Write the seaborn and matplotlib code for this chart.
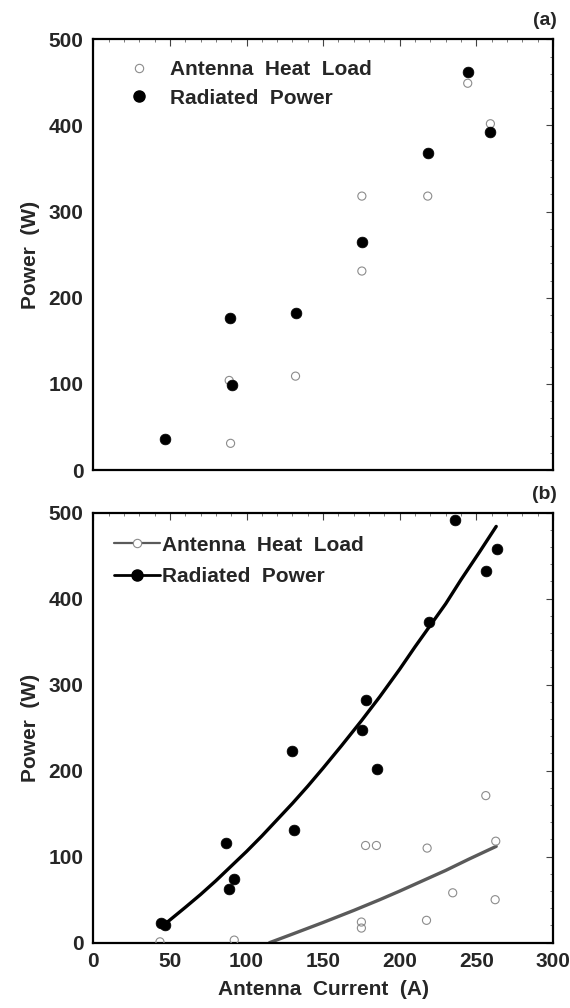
import matplotlib
matplotlib.use("Agg")
import matplotlib.pyplot as plt
import seaborn as sns
from matplotlib.lines import Line2D
from matplotlib.ticker import MultipleLocator

# ---------------- data ----------------
# panel (a)
heat_a_x = [89.6, 88.7, 132.0, 175.3, 175.3, 218.3, 244.4, 259.2]
heat_a_y = [31, 104, 109, 231, 318, 318, 449, 402]
rad_a_x = [47.0, 89.2, 90.3, 132.2, 175.3, 218.3, 244.9, 259.2]
rad_a_y = [36, 177, 99, 182, 265, 368, 462, 392]

# panel (b)
rad_b_x = [44.0, 47.0, 88.3, 91.6, 86.6, 130.7, 130.0, 175.5, 178.1, 185.0, 218.8, 236.4, 256.6, 263.5]
rad_b_y = [23, 21, 62, 74, 116, 131, 223, 247, 282, 202, 373, 492, 432, 458]
heat_b_x = [43.5, 92.0, 175.0, 175.0, 177.7, 184.8, 217.5, 217.9, 234.6, 256.2, 262.3, 262.7]
heat_b_y = [1, 3, 24, 17, 113, 113, 26, 110, 58, 171, 50, 118]

# fitted curves
rad_fit_x = [47, 60, 70, 80, 90, 100, 110, 120, 130, 140, 150, 162, 175, 187, 200, 210, 218, 230, 240, 252, 263]
rad_fit_y = [22, 41, 56, 72, 89, 106, 124, 143, 162, 182, 203, 229, 258, 286, 318, 344, 364, 394, 422, 454, 484]
heat_fit_x = [115, 130, 150, 170, 187, 200, 215, 230, 245, 263]
heat_fit_y = [0, 10, 23.5, 37.5, 50, 60, 72, 84, 97, 112]

x_ticks = [0, 50, 100, 150, 200, 250, 300]
y_ticks = [0, 100, 200, 300, 400, 500]

# ---------------- style ----------------
sns.set_style("white")
plt.rcParams['font.family'] = ['Liberation Sans', 'DejaVu Sans']
plt.rcParams['font.weight'] = 'bold'

fig = plt.figure(figsize=(5.7, 10.08), dpi=100)
ax1 = fig.add_axes([0.1637, 0.5337, 0.8063, 0.4273])
ax2 = fig.add_axes([0.1637, 0.0648, 0.8063, 0.4266])

open_kw = dict(marker='o', s=34, color='#8c8c8c', facecolor='none', edgecolor='#8c8c8c',
               linewidth=0.8, zorder=3)
fill_kw = dict(marker='o', s=60, color='black', edgecolor='black', linewidth=0.5, zorder=4)

# panel (a)
sns.scatterplot(x=heat_a_x, y=heat_a_y, ax=ax1, **open_kw)
sns.scatterplot(x=rad_a_x, y=rad_a_y, ax=ax1, **fill_kw)

# panel (b)
sns.lineplot(x=rad_fit_x, y=rad_fit_y, ax=ax2, color='black', linewidth=2.4, estimator=None, zorder=2)
sns.lineplot(x=heat_fit_x, y=heat_fit_y, ax=ax2, color='#5a5a5a', linewidth=2.4, estimator=None, zorder=2)
sns.scatterplot(x=heat_b_x, y=heat_b_y, ax=ax2, **open_kw)
sns.scatterplot(x=rad_b_x, y=rad_b_y, ax=ax2, **fill_kw)

for ax in (ax1, ax2):
    ax.set_xlim(0, 300)
    ax.set_ylim(0, 500)
    ax.set_xticks(x_ticks)
    ax.set_yticks(y_ticks)
    ax.xaxis.set_minor_locator(MultipleLocator(10))
    ax.yaxis.set_minor_locator(MultipleLocator(20))
    ax.tick_params(which='major', direction='in', top=True, right=True,
                   length=5, width=0.8, color='#444444', labelsize=15, pad=7)
    ax.tick_params(which='minor', direction='in', top=True, right=True,
                   length=2.5, width=0.6, color='#666666')
    for sp in ax.spines.values():
        sp.set_linewidth(1.6)
        sp.set_color('black')
        sp.set_visible(True)
    ax.set_ylabel('Power  (W)', fontsize=15, fontweight='bold',
                  family=['Liberation Sans Narrow', 'Liberation Sans', 'DejaVu Sans'], labelpad=6)
    for lab in ax.get_xticklabels() + ax.get_yticklabels():
        lab.set_fontweight('bold')

ax1.tick_params(labelbottom=False)
ax1.set_xlabel('')
ax2.set_xlabel('Antenna  Current  (A)', fontsize=15, fontweight='bold', labelpad=6)

# legends
h_open = Line2D([], [], ls='none', marker='o', ms=6, mfc='none', mec='#8c8c8c', mew=0.8)
h_fill = Line2D([], [], ls='none', marker='o', ms=8, mfc='black', mec='black')
ax1.legend([h_open, h_fill], ['Antenna  Heat  Load', 'Radiated  Power'],
           loc='upper left', bbox_to_anchor=(0.035, 0.995), frameon=False,
           handlelength=1.0, handletextpad=1.0, labelspacing=0.45,
           prop={'weight': 'bold', 'size': 15})

hl_open = Line2D([], [], color='#5a5a5a', lw=1.6, marker='o', ms=6, mfc='white', mec='#8c8c8c', mew=0.8)
hl_fill = Line2D([], [], color='black', lw=2.0, marker='o', ms=8, mfc='black', mec='black')
ax2.legend([hl_open, hl_fill], ['Antenna  Heat  Load', 'Radiated  Power'],
           loc='upper left', bbox_to_anchor=(0.005, 0.99), frameon=False,
           handlelength=2.2, handletextpad=0.1, labelspacing=0.6,
           prop={'weight': 'bold', 'size': 15})

fig.text(0.977, 0.980, '(a)', ha='right', va='center', fontsize=14, fontweight='bold')
fig.text(0.977, 0.509, '(b)', ha='right', va='center', fontsize=14, fontweight='bold')

fig.savefig('out.png', dpi=100)
